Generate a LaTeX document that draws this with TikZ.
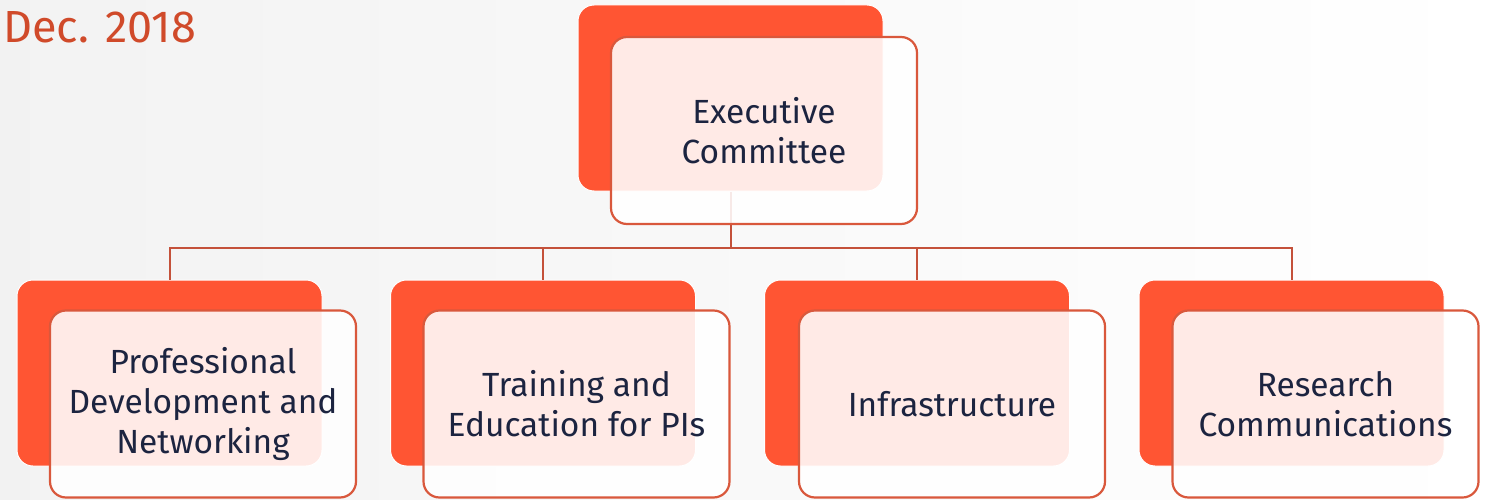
\documentclass[tikz,border=0pt]{standalone}
\usepackage{fontspec}
\setmainfont{Fira Sans}
\definecolor{backfill}{HTML}{FF5533}
\definecolor{frontline}{HTML}{D9583C}
\definecolor{linkcol}{HTML}{C4513A}
\definecolor{navy}{HTML}{1C2440}
\definecolor{datecol}{HTML}{D04A2A}
\begin{document}
\begin{tikzpicture}[x=1pt,y=-1pt,
  backbox/.style={rectangle, rounded corners=16pt, fill=backfill, draw=white, line width=1pt,
    minimum width=305pt, minimum height=186pt, inner sep=0pt},
  frontbox/.style={rectangle, rounded corners=16pt, fill=white, fill opacity=0.88, text opacity=1,
    draw=frontline, draw opacity=1, line width=2.2pt, minimum width=306pt, minimum height=187pt,
    inner sep=0pt, align=center, text=navy, font=\fontsize{33.5}{40}\selectfont},
  link/.style={draw=linkcol, line width=2pt}]
\useasboundingbox (0,0) rectangle (1485,500);
\fill[left color=black!5, right color=white] (0,0) rectangle (1485,500);
\node[anchor=base west, text=datecol, font=\fontsize{45}{52}\selectfont, inner sep=0pt] (date) at (3,43) {Dec. 2018};
% back boxes
\node[backbox] (topb) at (730.5,98) {};
\node[backbox] (b1) at (169.5,373) {};
\node[backbox] (b2) at (543,373) {};
\node[backbox] (b3) at (917,373) {};
\node[backbox] (b4) at (1291.5,373) {};
% connectors
\coordinate (hub) at (730.5,248);
\draw[link] (topb.south) -- (hub);
\draw[link] (hub) -| (b1.north);
\draw[link] (hub) -| (b2.north);
\draw[link] (hub) -| (b3.north);
\draw[link] (hub) -| (b4.north);
% front boxes
\node[frontbox] (top) at (764,130.5) {Executive\\Committee};
\node[frontbox] (f1) at (203,404) {Professional\\Development and\\Networking};
\node[frontbox] (f2) at (576.5,404) {Training and\\Education for PIs};
\node[frontbox] (f3) at (952,404) {Infrastructure};
\node[frontbox] (f4) at (1325.5,404) {Research\\Communications};
\end{tikzpicture}
\end{document}
